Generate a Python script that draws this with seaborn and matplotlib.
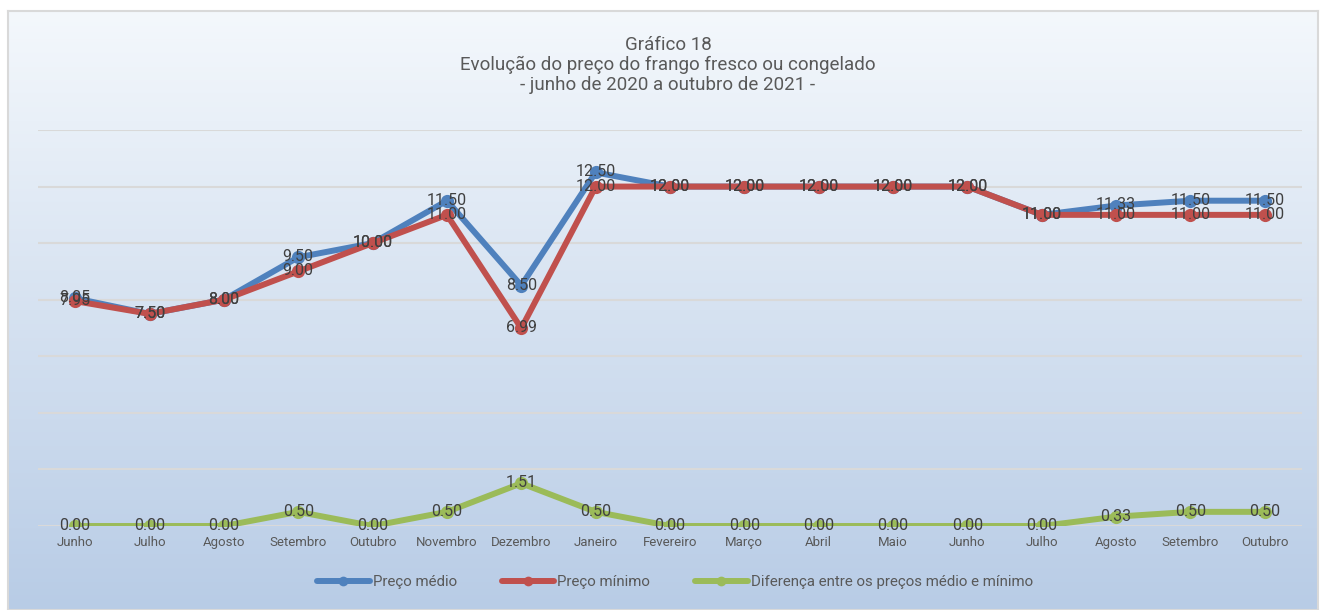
import numpy as np
import pandas as pd
import matplotlib
matplotlib.use("Agg")
import matplotlib.pyplot as plt
import seaborn as sns
from matplotlib.lines import Line2D

meses = ["Junho", "Julho", "Agosto", "Setembro", "Outubro", "Novembro", "Dezembro",
         "Janeiro", "Fevereiro", "Março", "Abril", "Maio", "Junho ", "Julho ",
         "Agosto ", "Setembro ", "Outubro "]
preco_medio = [8.05, 7.50, 8.00, 9.50, 10.00, 11.50, 8.50, 12.50, 12.00, 12.00,
               12.00, 12.00, 12.00, 11.00, 11.33, 11.50, 11.50]
preco_minimo = [7.95, 7.50, 8.00, 9.00, 10.00, 11.00, 6.99, 12.00, 12.00, 12.00,
                12.00, 12.00, 12.00, 11.00, 11.00, 11.00, 11.00]
diferenca = [0.00, 0.00, 0.00, 0.50, 0.00, 0.50, 1.51, 0.50, 0.00, 0.00,
             0.00, 0.00, 0.00, 0.00, 0.33, 0.50, 0.50]
series_nomes = ["Preço médio", "Preço mínimo", "Diferença entre os preços médio e mínimo"]
cores = ["#4F81BD", "#C0504D", "#9BBB59"]

sns.set_theme(style="white")
plt.rcParams['font.family'] = ['Liberation Sans Narrow', 'Roboto', 'DejaVu Sans']

W, H = 1322, 610
fig = plt.figure(figsize=(W / 100, H / 100), dpi=100)
fig.patch.set_facecolor("white")

# gradient background of chart area
bg = fig.add_axes([8 / W, 0, (1318 - 8) / W, (H - 11) / H], zorder=0)
top = np.array([244, 248, 252]) / 255
bot = np.array([184, 204, 230]) / 255
t = np.linspace(0, 1, 256)[:, None]
grad = top[None, :] * (1 - t) + bot[None, :] * t
bg.imshow(grad[:, None, :], aspect="auto", extent=[0, 1, 0, 1], origin="upper")
bg.set_xlim(0, 1); bg.set_ylim(0, 1)
for s in bg.spines.values():
    s.set_color("#D9D9D9"); s.set_linewidth(1.5)
bg.set_xticks([]); bg.set_yticks([])

ax = fig.add_axes([38 / W, (H - 526) / H, (1302 - 38) / W, (526 - 130) / H], zorder=1)
ax.patch.set_alpha(0)

x = np.arange(len(meses))
frames = []
for nome, vals in zip(series_nomes, [preco_medio, preco_minimo, diferenca]):
    frames.append(pd.DataFrame({"x": x, "valor": vals, "serie": nome}))
df = pd.concat(frames, ignore_index=True)

for nome, cor in zip(series_nomes, cores):
    sub = df[df["serie"] == nome]
    sns.lineplot(data=sub, x="x", y="valor", ax=ax, color=cor, linewidth=4.3,
                 marker="o", markersize=9.5, markeredgewidth=0, legend=False, zorder=3)
    for xi, v in zip(sub["x"], sub["valor"]):
        ax.text(xi, v + 0.02, f"{v:.2f}", ha="center", va="center", fontsize=11.5,
                color="#404040", zorder=5)

ax.set_xlim(-0.5, len(meses) - 0.5)
ax.set_ylim(0, 14)
ax.set_yticks(np.arange(0, 15, 2))
ax.yaxis.grid(True, color="#D9D9D9", linewidth=1.5, zorder=0)
ax.xaxis.grid(False)
ax.set_yticklabels([])
ax.tick_params(axis="y", length=0)
ax.set_xticks(x)
ax.set_xticklabels([m.strip() for m in meses], fontsize=9.5, color="#595959")
ax.tick_params(axis="x", length=0, pad=7)
ax.set_xlabel(""); ax.set_ylabel("")
for s in ax.spines.values():
    s.set_visible(False)

fig.text(668 / W, 1 - 65 / H,
         "Gráfico 18\nEvolução do preço do frango fresco ou congelado\n- junho de 2020 a outubro de 2021 -",
         ha="center", va="center", fontsize=13.5, color="#595959", linespacing=1.15)

handles = [Line2D([0], [0], color=c, linewidth=4.3, marker="o", markersize=7,
                  markeredgewidth=0) for c in cores]
fig.legend(handles, series_nomes, loc="center", bbox_to_anchor=(675 / W, 1 - 582 / H),
           ncol=3, frameon=False, fontsize=10.8, handlelength=3.5, columnspacing=3,
           handletextpad=0.2, labelcolor="#595959")

fig.savefig("out.png", dpi=100)
